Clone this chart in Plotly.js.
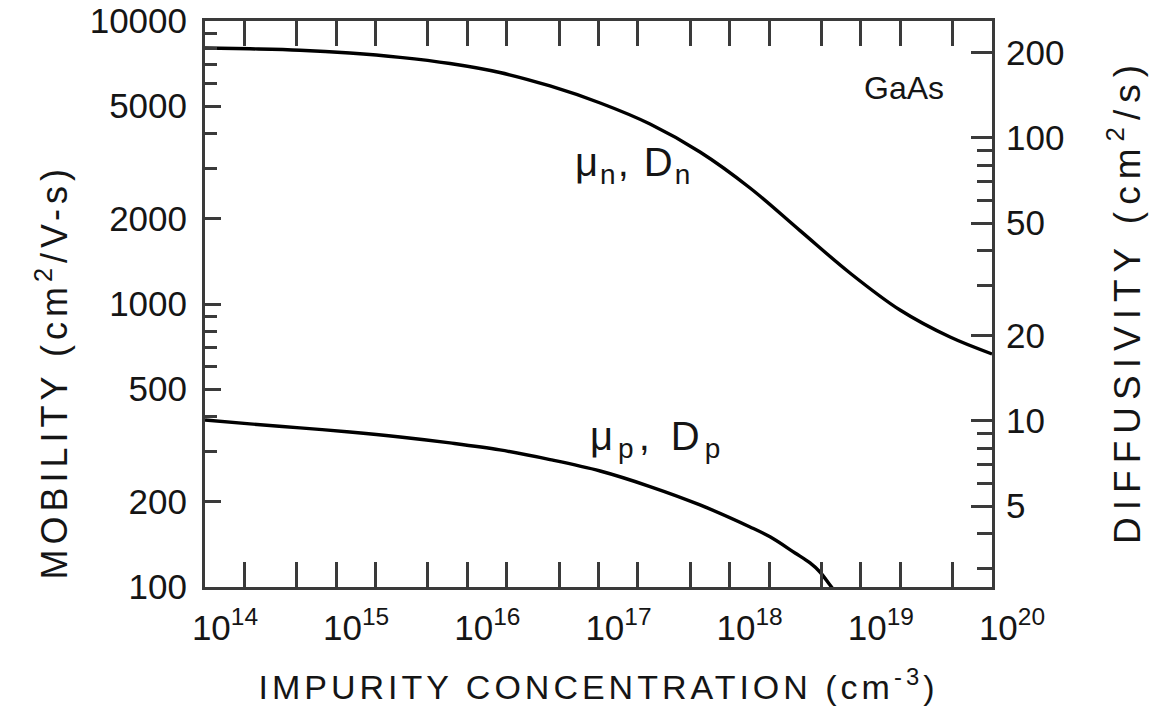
<!DOCTYPE html>
<html>
<head>
<meta charset="utf-8">
<script src="https://cdn.plot.ly/plotly-3.0.1.min.js"></script>
<style>
  html, body { margin: 0; padding: 0; background: #fff; }
  #chart { width: 1152px; height: 725px; }
  .xtitle { letter-spacing: 4px; }
  g.annotation[data-index="0"] .annotation-text { letter-spacing: 5px; }
  g.annotation[data-index="1"] .annotation-text { letter-spacing: 7px; }
  g.annotation[data-index="3"] .annotation-text { letter-spacing: 2px; }
  g.annotation[data-index="4"] .annotation-text { letter-spacing: 5px; }
</style>
</head>
<body>
<div id="chart"></div>
<script>
// Impurity concentration (cm^-3) for the electron curve
var concN = [1e14, 2.2e14, 5.3e14, 1.27e15, 3.07e15, 7.38e15, 1.77e16, 4.27e16, 1.03e17, 2.47e17, 5.94e17, 1.43e18, 3.44e18, 8.26e18, 1.99e19, 4.79e19, 1e20];
// Electron mobility (cm^2/V-s)
var muN = [8030, 7975, 7885, 7707, 7440, 7076, 6577, 5893, 5131, 4325, 3444, 2570, 1817, 1287, 952, 764, 666];
// Impurity concentration (cm^-3) for the hole curve
var concP = [1e14, 2.2e14, 5.3e14, 1.27e15, 3.07e15, 7.38e15, 1.77e16, 4.27e16, 1.03e17, 2.47e17, 5.94e17, 1.43e18, 2.03e18, 3.15e18, 4.10e18, 4.88e18, 5.82e18, 6.94e18];
// Hole mobility (cm^2/V-s)
var muP = [389, 377, 365, 353, 339, 323, 305, 282, 257, 226.5, 195, 163, 150.4, 131.9, 121.6, 113, 101.6, 91.4];
// kT/q at 300 K (V); D = mu * kT/q
var kTq = 0.0259;

var xTickVals = [1e14, 1e15, 1e16, 1e17, 1e18, 1e19, 1e20];
var xTickText = ['10<sup>14</sup>', '10<sup>15</sup>', '10<sup>16</sup>', '10<sup>17</sup>', '10<sup>18</sup>', '10<sup>19</sup>', '10<sup>20</sup>'];
var xMinorVals = [2e14, 5e14, 2e15, 5e15, 2e16, 5e16, 2e17, 5e17, 2e18, 5e18, 2e19, 5e19];
var muTickVals = [100, 200, 500, 1000, 2000, 5000, 10000];
var muMinorVals = [300, 400, 600, 700, 800, 900, 3000, 4000, 6000, 7000, 8000, 9000];
var dTickVals = [5, 10, 20, 50, 100, 200];
var dMinorVals = [3, 4, 6, 7, 8, 9, 30, 40, 60, 70, 80, 90];

var dN = muN.map(function (m) { return m * kTq; });
var dP = muP.map(function (m) { return m * kTq; });

var FONT = 'Liberation Sans, Arial, Helvetica, sans-serif';
var INK = '#151515';
var AX = '#3a3a3a';
var LINE = { color: '#000', width: 3.4, shape: 'spline', smoothing: 1 };

var traces = [
  { x: concN, y: muN, type: 'scatter', mode: 'lines', name: 'μn', line: LINE, hoverinfo: 'x+y' },
  { x: concP, y: muP, type: 'scatter', mode: 'lines', name: 'μp', line: LINE, hoverinfo: 'x+y' },
  { x: concN, y: dN, type: 'scatter', mode: 'lines', name: 'Dn', yaxis: 'y2', opacity: 0, line: LINE, hoverinfo: 'skip' },
  { x: concP, y: dP, type: 'scatter', mode: 'lines', name: 'Dp', yaxis: 'y2', opacity: 0, line: LINE, hoverinfo: 'skip' }
];

var layout = {
  width: 1152, height: 725,
  margin: { l: 205, r: 160, t: 21, b: 138 },
  paper_bgcolor: '#fff', plot_bgcolor: '#fff',
  showlegend: false,
  font: { family: FONT, color: INK, size: 34 },
  xaxis: {
    type: 'log', range: [14, 20],
    showgrid: false, zeroline: false,
    showline: true, linecolor: AX, linewidth: 3, mirror: 'allticks',
    ticks: 'inside', ticklen: 25, tickwidth: 2.5, tickcolor: AX,
    tickvals: xTickVals, ticktext: xTickText,
    tickfont: { family: FONT, size: 35, color: INK },
    ticklabelstandoff: 8, ticklabelshift: 20,
    minor: { tickvals: xMinorVals, ticks: 'inside', ticklen: 18, tickwidth: 2.5, tickcolor: AX },
    title: { text: 'IMPURITY CONCENTRATION (cm<sup>-3</sup>)', font: { family: FONT, size: 34, color: INK }, standoff: 30 }
  },
  yaxis: {
    type: 'log', range: [2, 4],
    showgrid: false, zeroline: false,
    showline: true, linecolor: AX, linewidth: 3,
    ticks: 'inside', ticklen: 16, tickwidth: 2.5, tickcolor: AX,
    tickvals: muTickVals, ticktext: muTickVals.map(String),
    tickfont: { family: FONT, size: 35, color: INK },
    ticklabelstandoff: 8,
    minor: { tickvals: muMinorVals, ticks: 'inside', ticklen: 12, tickwidth: 2.5, tickcolor: AX }
  },
  yaxis2: {
    type: 'log', range: [Math.log10(100 * kTq), Math.log10(10000 * kTq)],
    overlaying: 'y', side: 'right', anchor: 'x',
    showgrid: false, zeroline: false,
    showline: true, linecolor: AX, linewidth: 3,
    ticks: 'inside', ticklen: 21, tickwidth: 2.5, tickcolor: AX,
    tickvals: dTickVals, ticktext: dTickVals.map(String),
    tickfont: { family: FONT, size: 35, color: INK },
    ticklabelstandoff: 4,
    minor: { tickvals: dMinorVals, ticks: 'inside', ticklen: 15, tickwidth: 2.5, tickcolor: AX }
  },
  annotations: [
    { text: 'MOBILITY (cm<sup>2</sup>/V-s)', xref: 'paper', yref: 'paper', x: -0.195, y: 0.38,
      textangle: -90, showarrow: false, xanchor: 'center', yanchor: 'middle',
      font: { family: FONT, size: 36, color: INK } },
    { text: 'DIFFUSIVITY (cm<sup>2</sup>/s)', xref: 'paper', yref: 'paper', x: 1.168, y: 0.505,
      textangle: -90, showarrow: false, xanchor: 'center', yanchor: 'middle',
      font: { family: FONT, size: 37, color: INK } },
    { text: 'GaAs', xref: 'paper', yref: 'paper', x: 0.888, y: 0.882,
      showarrow: false, xanchor: 'center', yanchor: 'middle',
      font: { family: FONT, size: 32, color: INK } },
    { text: 'μ<sub>n</sub>, D<sub>n</sub>', xref: 'paper', yref: 'paper', x: 0.545, y: 0.745,
      showarrow: false, xanchor: 'center', yanchor: 'middle',
      font: { family: FONT, size: 40, color: INK } },
    { text: 'μ<sub>p</sub>, D<sub>p</sub>', xref: 'paper', yref: 'paper', x: 0.575, y: 0.262,
      showarrow: false, xanchor: 'center', yanchor: 'middle',
      font: { family: FONT, size: 40, color: INK } }
  ]
};

Plotly.newPlot('chart', traces, layout, { displayModeBar: false });
</script>
</body>
</html>
